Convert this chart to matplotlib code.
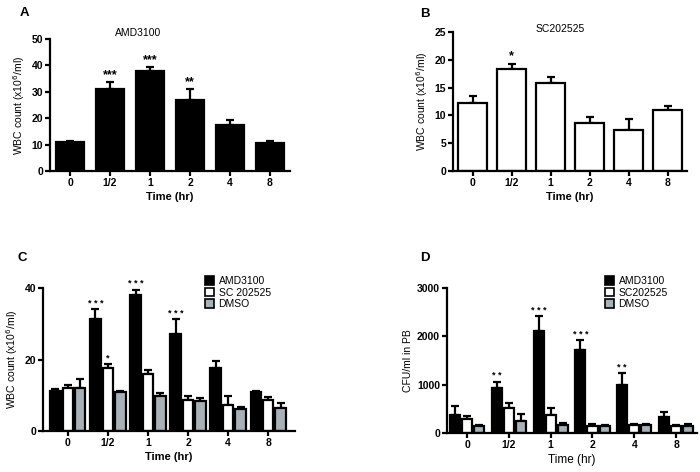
import matplotlib
matplotlib.use("Agg")
import matplotlib.pyplot as plt
import numpy as np
from matplotlib.patches import Patch

plt.rcParams['font.family'] = ['Liberation Sans', 'DejaVu Sans']

times = ["0", "1/2", "1", "2", "4", "8"]

# Panel A
a_vals = [11.0, 31.2, 38.0, 27.0, 17.5, 10.6]
a_err = [0.5, 2.5, 1.3, 4.0, 1.8, 0.6]
a_stars = ["", "***", "***", "**", "", ""]

# Panel B
b_vals = [12.2, 18.4, 15.8, 8.6, 7.3, 11.0]
b_err = [1.2, 0.9, 1.1, 1.1, 2.1, 0.7]
b_stars = ["", "*", "", "", "", ""]

# Panel C
c_amd = [11.3, 31.2, 38.0, 27.0, 17.6, 10.8]
c_amd_err = [0.4, 2.8, 1.5, 4.2, 1.9, 0.4]
c_sc = [11.9, 17.6, 16.0, 8.8, 7.4, 8.7]
c_sc_err = [0.9, 1.2, 1.1, 0.9, 2.5, 0.8]
c_dmso = [12.1, 11.0, 9.7, 8.4, 6.2, 6.5]
c_dmso_err = [2.5, 0.3, 1.0, 0.9, 0.4, 1.3]
c_amd_stars = ["", "* * *", "* * *", "* * *", "", ""]
c_sc_stars = ["", "*", "", "", "", ""]

# Panel D
d_amd = [380, 925, 2110, 1720, 1000, 340]
d_amd_err = [170, 135, 310, 200, 240, 100]
d_sc = [290, 510, 380, 150, 170, 140]
d_sc_err = [70, 110, 135, 35, 20, 30]
d_dmso = [140, 250, 165, 145, 170, 150]
d_dmso_err = [30, 140, 40, 30, 20, 30]
d_amd_stars = ["", "* *", "* * *", "* * *", "* *", ""]

gray = "#a7b1b6"
LW = 1.6

fig = plt.figure(figsize=(7.0, 4.72), dpi=100)


def style(ax, ylim, yticks, ylabel, xbold=True):
    for s in ["top", "right"]:
        ax.spines[s].set_visible(False)
    for s in ["left", "bottom"]:
        ax.spines[s].set_linewidth(LW)
    ax.set_ylim(*ylim)
    ax.set_yticks(yticks)
    ax.tick_params(axis="both", width=LW, length=3.5, labelsize=7.5, pad=1.5)
    for lab in ax.get_xticklabels() + ax.get_yticklabels():
        lab.set_fontweight("bold")
    ax.set_ylabel(ylabel, fontsize=7.5, labelpad=3)
    if xbold:
        ax.set_xlabel("Time (hr)", fontsize=8, fontweight="bold", labelpad=3)
    else:
        ax.set_xlabel("Time (hr)", fontsize=8.5, labelpad=3)


def bars(ax, x, vals, err, color, width):
    ax.bar(x, vals, width=width, color=color, edgecolor="black", linewidth=LW, zorder=2)
    ax.errorbar(x, vals, yerr=[np.zeros(len(vals)), err], fmt="none", ecolor="black",
                elinewidth=LW, capsize=3, capthick=LW, zorder=1)


def stars(ax, x, vals, err, labels, dy, fs=8):
    for xi, v, e, s in zip(x, vals, err, labels):
        if s:
            ax.text(xi, v + e + dy, s, ha="center", va="bottom", fontsize=fs,
                    fontweight="bold", clip_on=False)


# ---- A ----
axA = fig.add_axes([50/700, 1-171/472, 240/700, 132/472])
x = np.arange(len(times))
bars(axA, x, a_vals, a_err, "black", 0.7)
stars(axA, x, a_vals, a_err, a_stars, 0.3, fs=9)
axA.set_xlim(-0.5, 5.5)
axA.set_xticks(x, times)
style(axA, (0, 50), [0, 10, 20, 30, 40, 50], "WBC count (x10$^6$/ml)")
fig.text(138/700, 1-33/472, "AMD3100", fontsize=7.5, ha="center", va="center")
fig.text(20/700, 1-13/472, "A", fontsize=9.5, fontweight="bold", va="center")

# ---- B ----
axB = fig.add_axes([453/700, 1-171/472, 234/700, 139/472])
bars(axB, x, b_vals, b_err, "white", 0.72)
stars(axB, x, b_vals, b_err, b_stars, 0.2, fs=9)
axB.set_xlim(-0.5, 5.5)
axB.set_xticks(x, times)
style(axB, (0, 25), [0, 5, 10, 15, 20, 25], "WBC count (x10$^6$/ml)")
fig.text(560/700, 1-29/472, "SC202525", fontsize=7.5, ha="center", va="center")
fig.text(420/700, 1-14/472, "B", fontsize=9.5, fontweight="bold", va="center")

# ---- C ----
axC = fig.add_axes([43/700, 1-431/472, 252/700, 143/472])
w = 0.26
off = 0.31
bars(axC, x - off, c_amd, c_amd_err, "black", w)
bars(axC, x, c_sc, c_sc_err, "white", w)
bars(axC, x + off, c_dmso, c_dmso_err, gray, w)
stars(axC, x - off, c_amd, c_amd_err, c_amd_stars, 0.4, fs=6.5)
stars(axC, x, c_sc, c_sc_err, c_sc_stars, 0.4, fs=6.5)
axC.set_xlim(-0.62, 5.67)
axC.set_xticks(x, times)
style(axC, (0, 40), [0, 20, 40], "WBC count (x10$^6$/ml)")
fig.text(18/700, 1-258/472, "C", fontsize=9.5, fontweight="bold", va="center")
handles = [Patch(facecolor="black", edgecolor="black", linewidth=1.2),
           Patch(facecolor="white", edgecolor="black", linewidth=1.2),
           Patch(facecolor=gray, edgecolor="black", linewidth=1.2)]
fig.legend(handles, ["AMD3100", "SC 202525", "DMSO"], loc="upper left",
           bbox_to_anchor=(205/700, 1-276/472), frameon=False, fontsize=7.5,
           handlelength=0.9, handleheight=0.9, handletextpad=0.4, labelspacing=0.15,
           borderpad=0, borderaxespad=0)

# ---- D ----
axD = fig.add_axes([447/700, 1-433/472, 250/700, 145/472])
w = 0.24
off = 0.29
bars(axD, x - off, d_amd, d_amd_err, "black", w)
bars(axD, x, d_sc, d_sc_err, "white", w)
bars(axD, x + off, d_dmso, d_dmso_err, gray, w)
stars(axD, x - off, d_amd, d_amd_err, d_amd_stars, 30, fs=6.5)
axD.set_xlim(-0.48, 5.5)
axD.set_xticks(x, times)
style(axD, (0, 3000), [0, 1000, 2000, 3000], "CFU/ml in PB", xbold=False)
fig.text(420/700, 1-258/472, "D", fontsize=9.5, fontweight="bold", va="center")
fig.legend(handles, ["AMD3100", "SC202525", "DMSO"], loc="upper left",
           bbox_to_anchor=(605/700, 1-276/472), frameon=False, fontsize=7.5,
           handlelength=0.9, handleheight=0.9, handletextpad=0.4, labelspacing=0.15,
           borderpad=0, borderaxespad=0)

fig.savefig("out.png", dpi=100)
